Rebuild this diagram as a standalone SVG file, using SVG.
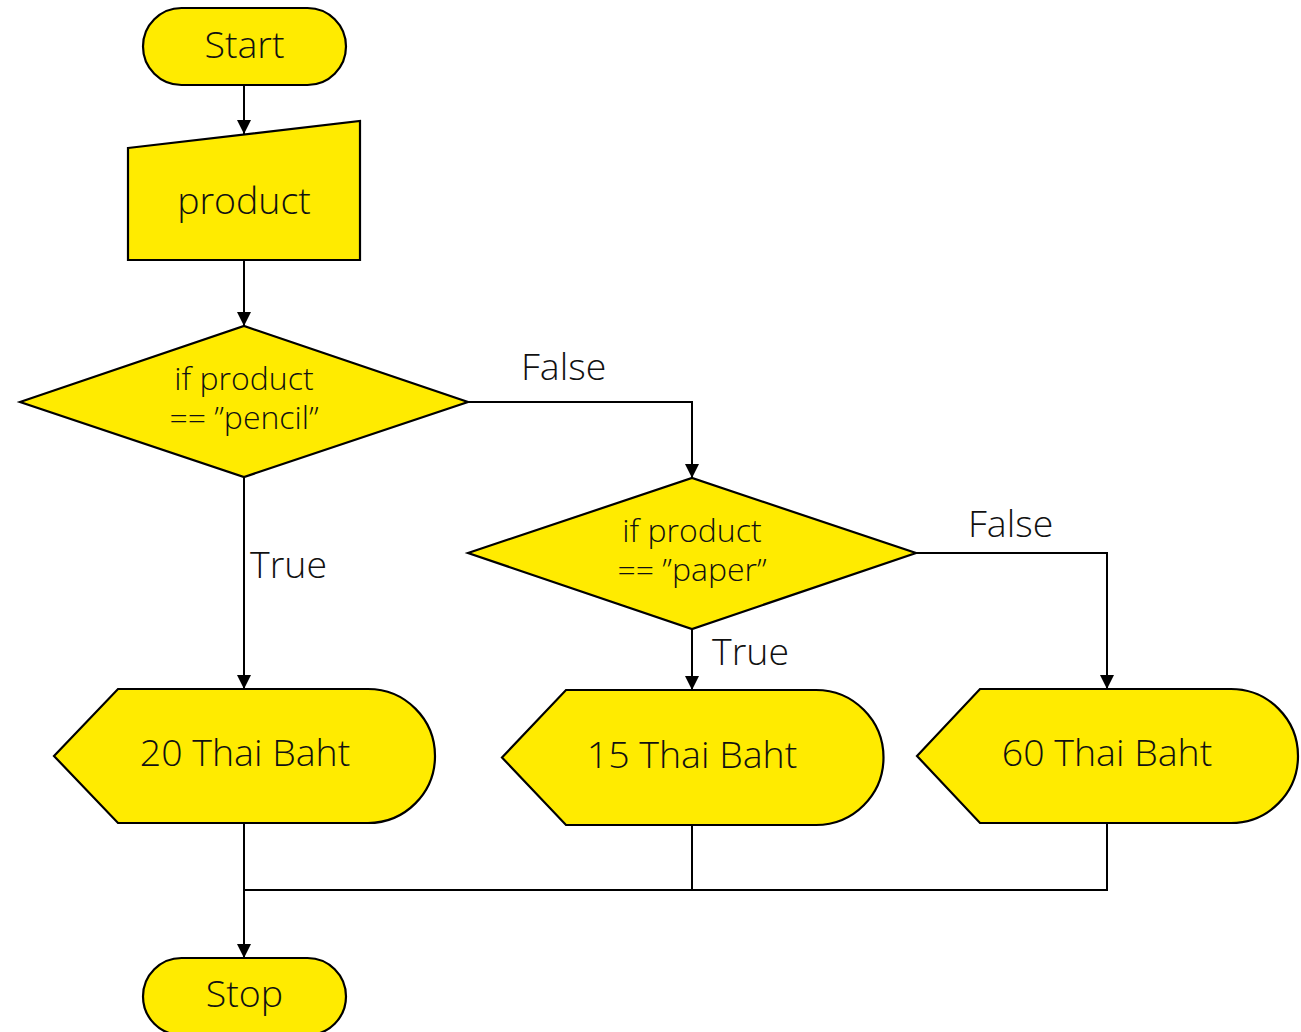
<svg xmlns="http://www.w3.org/2000/svg" width="1301" height="1032" viewBox="0 0 1301 1032">
  <defs>
    <marker id="arrow" viewBox="0 0 14 14" refX="14" refY="7" markerWidth="14" markerHeight="14" markerUnits="userSpaceOnUse" orient="auto">
      <path d="M0,0 L14,7 L0,14 Z" fill="#000"/>
    </marker>
    <style>
      .shape { fill: #ffeb00; stroke: #000; stroke-width: 2.2; stroke-linejoin: miter; }
      .label { font-family: "Open Sans", "Noto Sans", "Liberation Sans", sans-serif; font-weight: 300; fill: #111; text-anchor: middle; }
      .big { font-size: 37.5px; }
      .small { font-size: 32px; }
      .edge { fill: none; stroke: #000; stroke-width: 2; }
      .edgelabel { font-family: "Open Sans", "Noto Sans", "Liberation Sans", sans-serif; font-weight: 300; font-size: 37.5px; fill: #111; }
    </style>
  </defs>

  <!-- connectors -->
  <g id="connectors">
    <path class="edge" d="M244,85 V134" marker-end="url(#arrow)"/>
    <path class="edge" d="M244,260 V326" marker-end="url(#arrow)"/>
    <path class="edge" d="M468,402 H692 V478" marker-end="url(#arrow)"/>
    <path class="edge" d="M244,477 V689" marker-end="url(#arrow)"/>
    <path class="edge" d="M916,553 H1107 V689" marker-end="url(#arrow)"/>
    <path class="edge" d="M692,629 V690" marker-end="url(#arrow)"/>
    <path class="edge" d="M244,823 V958" marker-end="url(#arrow)"/>
    <path class="edge" d="M692,825 V890 H244"/>
    <path class="edge" d="M1107,823 V890 H692"/>
    <text class="edgelabel" x="521" y="380">False</text>
    <text class="edgelabel" x="250" y="578">True</text>
    <text class="edgelabel" x="968" y="537">False</text>
    <text class="edgelabel" x="712" y="665">True</text>
  </g>

  <!-- start terminal -->
  <g id="start">
    <rect class="shape" x="143" y="8" width="203" height="77" rx="38.5"/>
    <text class="label big" x="244.5" y="58">Start</text>
  </g>

  <!-- manual input -->
  <g id="product">
    <path class="shape" d="M128,148 L360,121 L360,260 L128,260 Z"/>
    <text class="label big" x="244" y="214">product</text>
  </g>

  <!-- first decision -->
  <g id="check-pencil">
    <path class="shape" d="M20,402 L244,326 L468,402 L244,477 Z"/>
    <text class="label small" x="244" y="390">if product</text>
    <text class="label small" x="244" y="429">== ”pencil”</text>
  </g>

  <!-- second decision -->
  <g id="check-paper">
    <path class="shape" d="M468,553 L692,478 L916,553 L692,629 Z"/>
    <text class="label small" x="692" y="542">if product</text>
    <text class="label small" x="692" y="581">== ”paper”</text>
  </g>

  <!-- display outputs -->
  <g id="price-20">
    <path class="shape" d="M54,756 L118,689 H368 A67,67 0 0 1 368,823 H118 Z"/>
    <text class="label big" x="245" y="766">20 Thai Baht</text>
  </g>

  <g id="price-15">
    <path class="shape" d="M502,757.5 L566,690 H816 A67.5,67.5 0 0 1 816,825 H566 Z"/>
    <text class="label big" x="692" y="768">15 Thai Baht</text>
  </g>

  <g id="price-60">
    <path class="shape" d="M917,756 L980,689 H1231 A67,67 0 0 1 1231,823 H980 Z"/>
    <text class="label big" x="1107" y="766">60 Thai Baht</text>
  </g>

  <!-- stop terminal -->
  <g id="stop">
    <rect class="shape" x="143" y="958" width="203" height="77" rx="38.5"/>
    <text class="label big" x="244.5" y="1007">Stop</text>
  </g>
</svg>
